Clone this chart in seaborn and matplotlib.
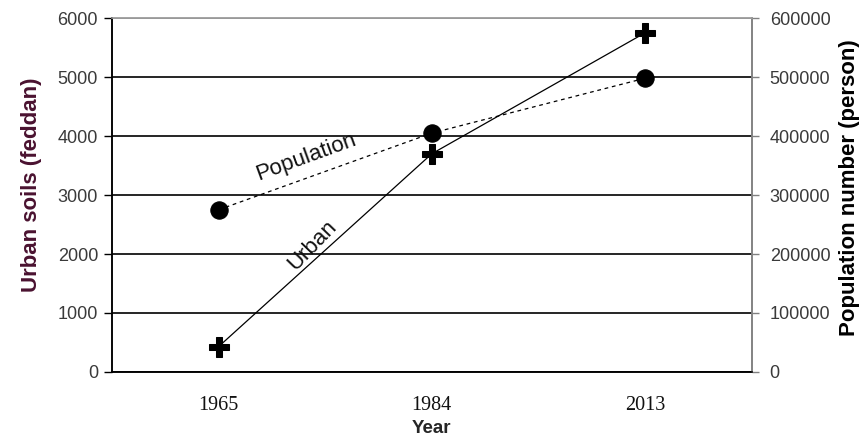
import numpy as np
import pandas as pd
import matplotlib
matplotlib.use("Agg")
import matplotlib.pyplot as plt
import seaborn as sns

years = ["1965", "1984", "2013"]
urban = [430, 3700, 5750]
population = [275000, 405000, 498000]

sns.set_theme(style="white")
plt.rcParams['font.family'] = ['Liberation Sans', 'DejaVu Sans']

df = pd.DataFrame({"pos": np.arange(len(years)), "urban": urban, "population": population})

fig = plt.figure(figsize=(8.68, 4.41), dpi=100)
ax = fig.add_axes([0.129, 0.1565, 0.737, 0.8025])
ax2 = ax.twinx()

sns.lineplot(data=df, x="pos", y="urban", ax=ax, color="black", lw=0.9,
             marker="P", markersize=14, markeredgecolor="black", zorder=5)
sns.lineplot(data=df, x="pos", y="population", ax=ax2, color="black", lw=0.9,
             linestyle=(0, (3, 3)), marker="o", markersize=12.5,
             markeredgecolor="black", zorder=5)

ax.set_xlim(-0.5, 2.5)
ax.set_ylim(0, 6000)
ax2.set_ylim(0, 600000)
ax.set_yticks(np.arange(0, 6001, 1000))
ax2.set_yticks(np.arange(0, 600001, 100000))
ax.set_xticks([-0.5, 0, 1, 2, 2.5])
ax.set_xticklabels(["", years[0], years[1], years[2], ""],
                   family=["Liberation Serif"], fontsize=14.5, color="#111111")

ax.yaxis.grid(True, color="black", lw=1.2)
ax.set_axisbelow(True)

for lab in ax.get_yticklabels():
    lab.set_fontsize(13)
    lab.set_color("#3a3a3a")
for lab in ax2.get_yticklabels():
    lab.set_fontsize(13)
    lab.set_color("#3a3a3a")

ax.tick_params(axis="y", direction="out", length=6, width=1, color="black", pad=4)
ax.tick_params(axis="x", direction="out", length=6, width=1, color="black", pad=11)
ax2.tick_params(axis="y", direction="out", length=5, width=1, color="#808080", pad=8)

ax.set_xlabel("Year", fontsize=13.5, fontweight="bold", labelpad=4)
ax.set_ylabel("Urban soils (feddan)", fontsize=16, fontweight="bold",
              color="#4a1230")
ax2.set_ylabel("Population number (person)", fontsize=16, fontweight="bold",
               color="black")
ax.yaxis.set_label_coords(-0.109, 0.528)
ax2.yaxis.set_label_coords(1.136, 0.52)

for a in (ax, ax2):
    a.spines["left"].set_color("black")
    a.spines["bottom"].set_color("black")
    a.spines["top"].set_color("#a0a0a0")
    a.spines["right"].set_color("#808080")
    for s in a.spines.values():
        s.set_linewidth(1.1)

ax.text(0.41, 3650, "Population", rotation=20, fontsize=16,
        ha="center", va="center", color="#111111")
ax.text(0.44, 2150, "Urban", rotation=46, fontsize=16,
        ha="center", va="center", color="#111111")

fig.savefig("out.png", dpi=100)
